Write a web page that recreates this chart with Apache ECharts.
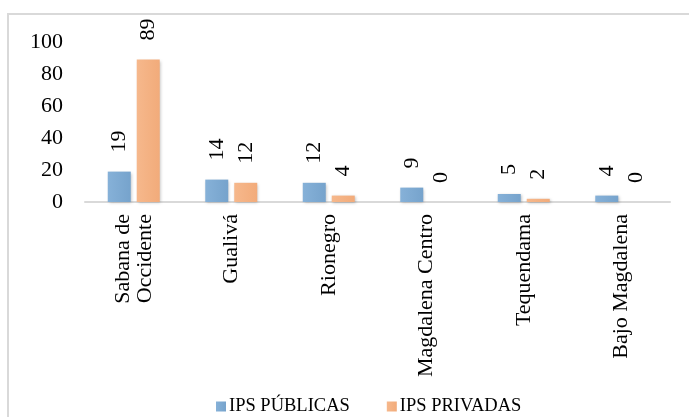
<!DOCTYPE html>
<html>
<head>
<meta charset="utf-8">
<script src="https://cdn.jsdelivr.net/npm/echarts@6/dist/echarts.min.js"></script>
<style>
  html, body { margin: 0; padding: 0; background: #fff; }
  .frame {
    position: absolute;
    left: 7px;
    top: 13px;
    width: 690px;
    height: 410px;
    border: 2px solid #d9d9d9;
    box-sizing: border-box;
  }
  #chart { position: absolute; left: 0; top: 0; width: 689px; height: 417px; }
</style>
</head>
<body>
<div class="frame"></div>
<div id="chart"></div>
<script>
const regions = ["Sabana de\nOccidente", "Gualivá", "Rionegro", "Magdalena Centro", "Tequendama", "Bajo Magdalena"];
const publicas = [19, 14, 12, 9, 5, 4];
const privadas = [89, 12, 4, 0, 2, 0];
const seriesNames = ["IPS PÚBLICAS", "IPS PRIVADAS"];

const serif = "Liberation Serif";
const chart = echarts.init(document.getElementById("chart"));

const labelStyle = {
  show: true,
  position: "top",
  rotate: 90,
  align: "left",
  verticalAlign: "middle",
  distance: 19,
  fontFamily: serif,
  fontSize: 22,
  color: "#000",
};

chart.setOption({
  animation: false,
  grid: { left: 85, right: 19, top: 42, bottom: 215 },
  legend: {
    top: 392,
    left: 211,
    itemWidth: 10,
    itemHeight: 10,
    itemGap: 37,
    icon: "rect",
    textStyle: { fontFamily: serif, fontSize: 18.5, color: "#000", padding: [0, 0, 0, -2] },
    data: seriesNames,
  },
  xAxis: {
    type: "category",
    data: regions,
    axisLine: { lineStyle: { color: "#d9d9d9", width: 2 } },
    axisTick: { show: false },
    axisLabel: {
      rotate: 90,
      interval: 0,
      margin: 12,
      fontFamily: serif,
      fontSize: 22,
      lineHeight: 22,
      color: "#000",
    },
  },
  yAxis: {
    type: "value",
    min: 0,
    max: 100,
    interval: 20,
    splitLine: { show: false },
    axisLine: { show: false },
    axisTick: { show: false },
    axisLabel: { margin: 22, fontFamily: serif, fontSize: 22, color: "#000" },
  },
  series: [
    {
      name: seriesNames[0],
      type: "bar",
      data: publicas,
      barWidth: 23,
      barGap: "26%",
      itemStyle: {
        color: new echarts.graphic.LinearGradient(0, 0, 1, 0, [
          { offset: 0, color: "#86b1d8" },
          { offset: 1, color: "#76a3cc" },
        ]),
        shadowColor: "rgba(0,0,0,0.25)",
        shadowBlur: 3,
        shadowOffsetX: 1,
        shadowOffsetY: 1,
      },
      label: labelStyle,
    },
    {
      name: seriesNames[1],
      type: "bar",
      data: privadas,
      barWidth: 23,
      itemStyle: {
        color: new echarts.graphic.LinearGradient(0, 0, 1, 0, [
          { offset: 0, color: "#f6b88c" },
          { offset: 1, color: "#f2ab7a" },
        ]),
        shadowColor: "rgba(0,0,0,0.25)",
        shadowBlur: 3,
        shadowOffsetX: 1,
        shadowOffsetY: 1,
      },
      label: labelStyle,
    },
  ],
});
</script>
</body>
</html>
